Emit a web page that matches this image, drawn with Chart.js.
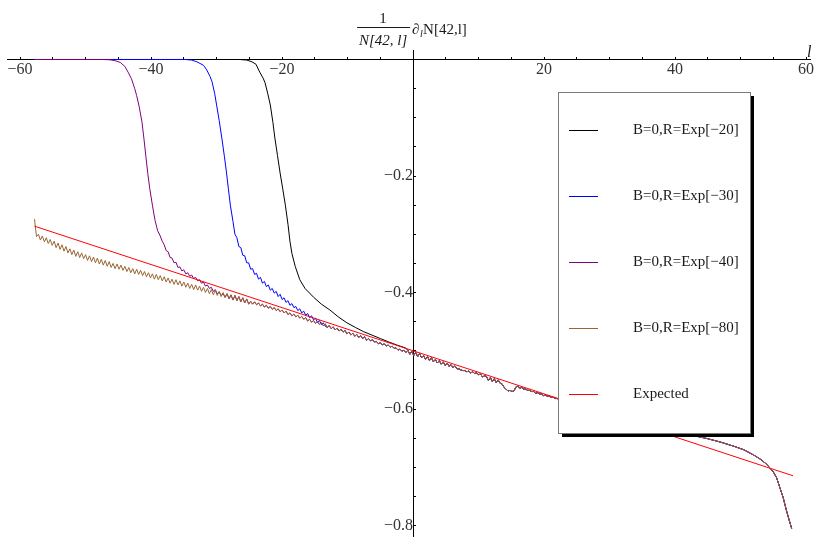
<!DOCTYPE html>
<html>
<head>
<meta charset="utf-8">
<script src="https://cdn.jsdelivr.net/npm/chart.js@4"></script>
<style>
  html, body { margin: 0; background: #fff; }
  #wrap { position: relative; width: 815px; height: 537px; }
</style>
</head>
<body>
<div id="wrap"><canvas id="chart"></canvas></div>
<script>
// series labels
const seriesNames = ["B=0,R=Exp[\u221220]", "B=0,R=Exp[\u221230]", "B=0,R=Exp[\u221240]", "B=0,R=Exp[\u221280]", "Expected"];

// common curve that every R-series falls onto, sampled every 0.3 from l = -57.8
const commonStart = -57.8;
const commonStep = 0.3;
const commonOsc = [
  -0.274,-0.304,-0.300,-0.310,-0.303,-0.313,-0.306,-0.316,-0.309,-0.319,
  -0.312,-0.323,-0.315,-0.326,-0.318,-0.329,-0.321,-0.332,-0.325,-0.335,
  -0.327,-0.338,-0.330,-0.340,-0.332,-0.342,-0.335,-0.345,-0.337,-0.347,
  -0.339,-0.349,-0.341,-0.351,-0.343,-0.353,-0.345,-0.355,-0.347,-0.357,
  -0.350,-0.359,-0.351,-0.360,-0.353,-0.362,-0.355,-0.364,-0.357,-0.366,
  -0.359,-0.368,-0.360,-0.369,-0.362,-0.371,-0.364,-0.373,-0.366,-0.375,
  -0.368,-0.377,-0.369,-0.378,-0.371,-0.380,-0.373,-0.382,-0.375,-0.384,
  -0.377,-0.386,-0.378,-0.387,-0.380,-0.389,-0.382,-0.391,-0.384,-0.393,
  -0.386,-0.395,-0.387,-0.396,-0.389,-0.398,-0.391,-0.400,-0.393,-0.402,
  -0.395,-0.404,-0.396,-0.405,-0.398,-0.407,-0.400,-0.409,-0.402,-0.411,
  -0.404,-0.413,-0.405,-0.414,-0.407,-0.416,-0.409,-0.418,-0.411,-0.420,
  -0.415,-0.420,-0.416,-0.421,-0.418,-0.423,-0.420,-0.425,-0.422,-0.427,
  -0.424,-0.429,-0.426,-0.431,-0.428,-0.433,-0.430,-0.435,-0.432,-0.438,
  -0.435,-0.440,-0.437,-0.442,-0.439,-0.444,-0.441,-0.446,-0.443,-0.449,
  -0.446,-0.451,-0.448,-0.453,-0.450,-0.455,-0.452,-0.457,-0.454,-0.460,
  -0.457,-0.462,-0.459,-0.464,-0.461,-0.466,-0.463,-0.468,-0.465,-0.471,
  -0.468,-0.473,-0.470,-0.475,-0.472,-0.477,-0.474,-0.479,-0.476,-0.482,
  -0.479,-0.483,-0.481,-0.485,-0.484,-0.488,-0.486,-0.490,-0.488,-0.492,
  -0.490,-0.494,-0.492,-0.496,-0.495,-0.499,-0.497,-0.501,-0.499,-0.503,
  -0.499,-0.506,-0.501,-0.508,-0.503,-0.510,-0.505,-0.512,-0.508,-0.515,
  -0.510,-0.517,-0.512,-0.519,-0.515,-0.521,-0.517,-0.523,-0.519,-0.525,
  -0.521,-0.527,-0.524,-0.529,-0.526,-0.531,-0.531,-0.533,-0.534,-0.534,
  -0.536,-0.535,-0.538,-0.536,-0.539,-0.538,-0.541,-0.540,-0.545,-0.543,
  -0.544,-0.551,-0.546,-0.553,-0.548,-0.555,-0.550,-0.556,-0.557,-0.563,
  -0.566,-0.569,-0.568,-0.570,-0.569,-0.562,-0.561,-0.564,-0.563,-0.566,
  -0.566,-0.568,-0.568,-0.570,-0.570,-0.573,-0.572,-0.574,-0.574,-0.577,
  -0.576,-0.578,-0.578,-0.580,-0.580,-0.582,-0.582,-0.584,-0.584,-0.586,
  -0.587,-0.588,-0.589,-0.590,-0.591,-0.592
];
// smooth end of the common curve
const tailL = [25.5, 27, 29, 31, 33, 35, 37, 39, 41, 43, 45, 47, 49, 50.5, 52, 53, 54, 55, 55.5, 56, 56.5, 57, 57.4, 57.8];
const tailV = [-0.594, -0.599, -0.605, -0.611, -0.617, -0.622, -0.628, -0.634, -0.640, -0.646, -0.651, -0.657, -0.664, -0.670, -0.679, -0.686, -0.695, -0.708, -0.718, -0.735, -0.752, -0.774, -0.790, -0.805];

// each series before it merges into the common curve
const blackL = [-57.8, -26.5, -25.4, -24.6, -24.0, -23.4, -22.9, -22.6, -22.2, -21.8, -21.4, -21.1, -20.7, -20.3, -19.9, -19.5, -19.1, -18.8, -18.5, -18.0, -17.3, -16.5, -15.2, -14.0, -12.7, -11.4, -10.1, -8.8, -7.6, -6.3, -5.0, -3.7, -2.5, -1.2];
const blackV = [0, 0, -0.001, -0.004, -0.008, -0.022, -0.032, -0.040, -0.058, -0.078, -0.108, -0.135, -0.165, -0.195, -0.222, -0.250, -0.283, -0.312, -0.333, -0.355, -0.378, -0.393, -0.408, -0.420, -0.430, -0.442, -0.452, -0.460, -0.467, -0.473, -0.479, -0.485, -0.490, -0.495];
const blackJoin = 190;

const blueL = [-57.8, -34.8, -33.8, -33.0, -32.0, -31.5, -31.0, -30.7, -30.3, -30.0, -29.6, -29.2, -28.8, -28.5, -28.2, -27.9, -27.5, -27.2,
  -26.9, -26.6, -26.3, -26.0, -25.7, -25.4, -25.1, -24.8, -24.5, -24.2,
  -23.9, -23.6, -23.3, -23.0, -22.7, -22.4, -22.1, -21.8, -21.5, -21.2,
  -20.9, -20.6, -20.3, -20.0, -19.7, -19.4, -19.1, -18.8, -18.5, -18.2,
  -17.9, -17.6, -17.3, -17.0, -16.7, -16.4, -16.1, -15.8, -15.5, -15.2,
  -14.9, -14.6, -14.3, -14.0, -13.7, -13.4];
const blueV = [0, 0, -0.001, -0.004, -0.010, -0.018, -0.029, -0.038, -0.058, -0.078, -0.105, -0.135, -0.167, -0.193, -0.222, -0.250, -0.278, -0.300,
  -0.306, -0.321, -0.323, -0.336, -0.337, -0.349, -0.349, -0.360, -0.359, -0.369,
  -0.367, -0.377, -0.374, -0.384, -0.381, -0.390, -0.387, -0.396, -0.393, -0.401,
  -0.398, -0.407, -0.403, -0.412, -0.409, -0.417, -0.414, -0.422, -0.419, -0.426,
  -0.424, -0.431, -0.428, -0.435, -0.432, -0.439, -0.436, -0.443, -0.440, -0.447,
  -0.444, -0.451, -0.448, -0.455, -0.452, -0.458];
const blueJoin = 149;

const purpleL = [-57.8, -47.5, -46.3, -45.5, -44.7, -44.0, -43.5, -43.0, -42.5, -42.2, -41.8, -41.4, -41.1, -40.8, -40.5, -40.2, -39.8, -39.4, -39.0, -38.6,
  -38.3, -38.0, -37.7, -37.4, -37.1, -36.8, -36.5, -36.2, -35.9, -35.6, -35.3, -35.0, -34.7, -34.4, -34.1, -33.8, -33.5, -33.2, -32.9, -32.6,
  -32.3, -32.0, -31.7, -31.4, -31.1, -30.8, -30.5, -30.2, -29.9, -29.6, -29.3, -29.0, -28.7];
const purpleV = [0, 0, -0.0005, -0.002, -0.005, -0.012, -0.022, -0.033, -0.050, -0.062, -0.082, -0.107, -0.135, -0.166, -0.196, -0.222, -0.250, -0.276, -0.294, -0.303,
  -0.312, -0.318, -0.328, -0.330, -0.340, -0.341, -0.349, -0.348, -0.357, -0.356, -0.363, -0.361, -0.368, -0.366, -0.372, -0.370, -0.376, -0.374, -0.380, -0.378,
  -0.384, -0.382, -0.389, -0.387, -0.393, -0.391, -0.398, -0.395, -0.402, -0.399, -0.405, -0.402, -0.408];
const purpleJoin = 98;

// expected straight line
const expectedL = [-57.8, 0, 58];
const expectedV = [-0.2861, -0.5, -0.7146];

// tick labels
const xTickLabels = [-60, -40, -20, 20, 40, 60];
const yTickLabels = [-0.8, -0.6, -0.4, -0.2];

const colors = ["#000000", "#0000ff", "#800080", "#996633", "#ff0000"];
const serif = '"Liberation Serif", "Times New Roman", serif';

function pairs(ls, vs) {
  return ls.map((l, i) => ({x: l, y: vs[i]}));
}
function commonFrom(k) {
  const pts = [];
  for (let i = k; i < commonOsc.length; i++) {
    pts.push({x: Math.round((commonStart + i * commonStep) * 10) / 10, y: commonOsc[i]});
  }
  return pts.concat(pairs(tailL, tailV));
}

const seriesData = [
  pairs(blackL, blackV).concat(commonFrom(blackJoin)),
  pairs(blueL, blueV).concat(commonFrom(blueJoin)),
  pairs(purpleL, purpleV).concat(commonFrom(purpleJoin)),
  commonFrom(0),
  pairs(expectedL, expectedV)
];

function minusSign(s) { return s.replace('-', '\u2212'); }

// axes sit inside the plot, so they must not take any layout room
function noRoom(s) {
  if (s.isHorizontal()) s.height = 0; else s.width = 0;
  s.paddingTop = s.paddingBottom = s.paddingLeft = s.paddingRight = 0;
}

const decorPlugin = {
  id: 'decor',
  afterDatasetsDraw(chart) {
    const ctx = chart.ctx;
    // legend box with shadow
    const bx = 558, by = 92, bw = 192, bh = 341;
    ctx.save();
    ctx.fillStyle = '#000';
    ctx.fillRect(bx + 4, by + 4, bw, bh);
    ctx.fillStyle = '#fff';
    ctx.fillRect(bx, by, bw, bh);
    ctx.strokeStyle = '#7a7a7a';
    ctx.lineWidth = 1;
    ctx.strokeRect(bx + 0.5, by + 0.5, bw, bh);
    ctx.font = '15px ' + serif;
    ctx.textBaseline = 'middle';
    ctx.textAlign = 'left';
    chart.data.datasets.forEach((ds, i) => {
      const y = 130 + i * 66;
      ctx.strokeStyle = ds.borderColor;
      ctx.beginPath();
      ctx.moveTo(569, y + 0.5);
      ctx.lineTo(598, y + 0.5);
      ctx.stroke();
      ctx.fillStyle = '#1a1a1a';
      ctx.fillText(ds.label, 633, y);
    });
    ctx.restore();
  },
  afterDraw(chart) {
    const ctx = chart.ctx;
    const x0 = chart.scales.x.getPixelForValue(0);
    ctx.save();
    ctx.fillStyle = '#1a1a1a';
    ctx.textBaseline = 'alphabetic';
    ctx.font = '15px ' + serif;
    ctx.textAlign = 'center';
    ctx.fillText('1', x0 - 30, 23);
    ctx.font = 'italic 15px ' + serif;
    ctx.fillText('N[42, l]', x0 - 30, 45);
    ctx.strokeStyle = '#1a1a1a';
    ctx.lineWidth = 1;
    ctx.beginPath();
    ctx.moveTo(x0 - 56, 27.5);
    ctx.lineTo(x0 - 3, 27.5);
    ctx.stroke();
    ctx.textAlign = 'left';
    ctx.font = '15px ' + serif;
    ctx.fillText('\u2202', x0 - 1, 34);
    ctx.font = 'italic 10px ' + serif;
    ctx.fillText('l', x0 + 7, 37);
    ctx.font = '15px ' + serif;
    ctx.fillText('N[42,l]', x0 + 10, 34);
    // x axis name
    ctx.font = 'italic 16px ' + serif;
    ctx.fillText('l', 807, 57);
    ctx.restore();
  }
};

new Chart(document.getElementById('chart'), {
  type: 'line',
  data: {
    datasets: seriesData.map((d, i) => ({
      label: seriesNames[i],
      data: d,
      borderColor: colors[i],
      backgroundColor: colors[i],
      borderWidth: 1,
      pointRadius: 0,
      tension: 0,
      fill: false,
      order: 4 - i
    }))
  },
  options: {
    responsive: true,
    maintainAspectRatio: false,
    animation: false,
    parsing: false,
    layout: {padding: {left: 7, right: 5, top: 50, bottom: 0}},
    plugins: {legend: {display: false}, tooltip: {enabled: false}},
    scales: {
      x: {
        type: 'linear',
        min: -62,
        max: 60.6,
        position: {y: 0},
        afterFit: noRoom,
        border: {color: '#000', width: 1},
        grid: {drawOnChartArea: false, drawTicks: true, tickLength: -3, color: '#000'},
        ticks: {
          stepSize: 5,
          autoSkip: false,
          maxRotation: 0,
          includeBounds: false,
          padding: 4,
          color: '#333',
          font: {family: serif, size: 16},
          callback: v => xTickLabels.includes(v) ? minusSign(String(v)) : ''
        }
      },
      y: {
        type: 'linear',
        min: -0.8197,
        max: 0.0163,
        position: {x: 0},
        afterFit: noRoom,
        border: {color: '#000', width: 1},
        grid: {drawOnChartArea: false, drawTicks: true, tickLength: -3, color: '#000'},
        ticks: {
          stepSize: 0.05,
          autoSkip: false,
          includeBounds: false,
          padding: 6,
          color: '#333',
          font: {family: serif, size: 16},
          callback: v => {
            const r = Math.round(v * 10) / 10;
            return (Math.abs(v - r) < 1e-6 && yTickLabels.includes(r)) ? minusSign(r.toFixed(1)) : '';
          }
        }
      }
    }
  },
  plugins: [decorPlugin]
});
</script>
</body>
</html>
